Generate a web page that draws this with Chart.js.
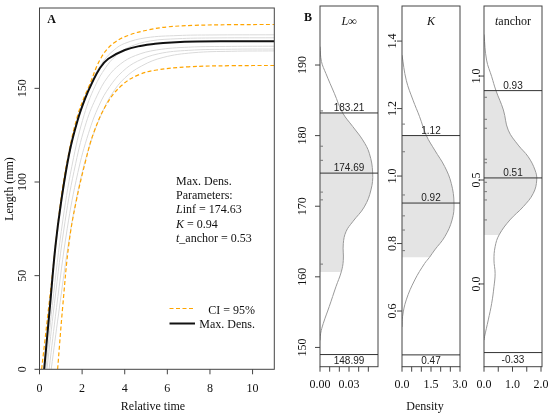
<!DOCTYPE html>
<html>
<head>
<meta charset="utf-8">
<script src="https://cdn.jsdelivr.net/npm/chart.js@4.4.1/dist/chart.umd.min.js"></script>
<style>
  body { margin: 0; background: #fff; }
  #wrap { position: relative; width: 550px; height: 417px; }
  canvas { position: absolute; top: 0; }
</style>
</head>
<body>
<div id="wrap">
  <canvas id="cA" width="280" height="417" style="left:0px"></canvas>
  <canvas id="cL" width="100" height="417" style="left:280px"></canvas>
  <canvas id="cK" width="100" height="417" style="left:380px"></canvas>
  <canvas id="cT" width="88" height="417" style="left:462px"></canvas>
</div>
<script>
// ---- panel A: growth curves (relative time vs length) ----
const blackT = [0.22, 0.49, 0.75, 1.01, 1.4, 1.79, 2.14, 2.45, 2.84, 3.23, 4.01, 4.8, 5.42, 6.2, 7.4, 9, 11.02];
const blackL = [0, 33.5, 66, 89, 115.5, 133, 144.5, 152.5, 160.9, 165.8, 170.5, 172.8, 173.8, 174.5, 175, 175.1, 175.1];

const upT = [0.1, 0.54, 1.0, 1.4, 1.79, 2.14, 2.3, 2.9, 3.5, 4.25, 5.15, 6.0, 7.2, 9, 11.02];
const upL = [0, 44, 90, 117, 135.5, 146.5, 150.5, 166.5, 174.3, 178.6, 181.3, 182.8, 183.6, 184, 184.1];

const loT = [0.85, 1.09, 1.38, 1.71, 2.18, 2.55, 3.15, 3.85, 4.65, 5.5, 7.0, 9, 11.02];
const loL = [0, 33.5, 67, 89, 112, 126.5, 141.5, 151.5, 157.2, 159.8, 161.5, 162.1, 162.2];

const grey1T = [0.2, 0.5, 1.0, 1.5, 2.0, 2.5, 3.0, 3.5, 4.0, 5.0, 6.5, 8, 11.02];
const grey1L = [0, 38, 86, 120, 141, 155, 164.5, 170.5, 174, 177, 178.2, 178.5, 178.6];
const grey2T = [0.3, 0.6, 1.1, 1.6, 2.1, 2.6, 3.1, 3.6, 4.2, 5.2, 6.5, 8, 11.02];
const grey2L = [0, 34, 80, 113, 136, 151, 161, 167.5, 172, 175.3, 176.5, 176.9, 177];
const grey3T = [0.35, 0.7, 1.2, 1.7, 2.2, 2.7, 3.2, 3.8, 4.5, 5.5, 7, 9, 11.02];
const grey3L = [0, 35, 79, 110, 132, 146, 156, 163, 167.5, 170.5, 172, 172.4, 172.5];
const grey4T = [0.45, 0.8, 1.3, 1.8, 2.3, 2.8, 3.3, 3.9, 4.6, 5.6, 7, 9, 11.02];
const grey4L = [0, 33, 75, 105, 126, 141, 151, 159, 164.5, 168.5, 170.3, 170.9, 171];
const grey5T = [0.55, 0.9, 1.4, 1.9, 2.4, 2.9, 3.4, 4.0, 4.8, 5.8, 7.2, 9, 11.02];
const grey5L = [0, 30, 70, 100, 121, 136, 147, 155.5, 162, 166.5, 169, 169.8, 170];

const aXTicks = [0, 2, 4, 6, 8, 10];
const aYTicks = [0, 50, 100, 150];
const params = [174.63, 0.94, 0.53];

// ---- panel B: posterior densities ----
const lVal = [192.6, 190.5, 188.8, 186.0, 183.21, 181.3, 179.4, 177.5, 174.7, 172.3, 169.9, 167.8, 166.4, 164.7, 162.3, 160.7, 158.6, 155.8, 153.4, 152.0, 151.0];
const lDen = [0, 0.0015, 0.0061, 0.0148, 0.0235, 0.0338, 0.0441, 0.051, 0.0545, 0.0527, 0.0458, 0.0338, 0.0269, 0.0241, 0.0241, 0.022, 0.0165, 0.0096, 0.0034, 0.0007, 0];
const lShade = [160.7, 183.21];
const lLines = [183.21, 174.69, 148.99];
const lRug = [183.5, 178.5, 176.5, 172.0, 170.9, 161.8];
const lYTicks = [150, 160, 170, 180, 190];
const lXTicks = [0, 0.01, 0.02, 0.03, 0.04, 0.05];
const lXLabels = [0, 0.03];

const kVal = [1.3585, 1.284, 1.225, 1.176, 1.12, 1.077, 1.028, 0.978, 0.919, 0.870, 0.820, 0.781, 0.759, 0.741, 0.692, 0.633, 0.584, 0.553];
const kDen = [0, 0.22, 0.57, 0.91, 1.26, 1.69, 2.21, 2.55, 2.69, 2.59, 2.21, 1.69, 1.42, 1.17, 0.66, 0.22, 0.03, 0];
const kShade = [0.759, 1.12];
const kLines = [1.12, 0.92, 0.47];
const kRug = [1.154, 1.072, 0.944, 0.882, 0.840, 0.779];
const kYTicks = [0.6, 0.8, 1.0, 1.2, 1.4];
const kXTicks = [0, 0.5, 1.0, 1.5, 2.0, 2.5, 3.0];
const kXLabels = [0, 1.5, 3.0];

const tVal = [1.2, 1.077, 0.997, 0.93, 0.837, 0.740, 0.668, 0.612, 0.548, 0.5, 0.436, 0.372, 0.308, 0.236, 0.179, 0.115, 0.051, -0.013, -0.093, -0.173, -0.253, -0.27];
const tDen = [0, 0.09, 0.27, 0.42, 0.68, 0.85, 1.20, 1.55, 1.79, 1.85, 1.73, 1.38, 0.91, 0.53, 0.39, 0.35, 0.39, 0.35, 0.27, 0.15, 0.02, 0];
const tShade = [0.236, 0.93];
const tLines = [0.93, 0.51, -0.33];
const tRug = [0.898, 0.792, 0.749, 0.600, 0.583, 0.489, 0.444, 0.404, 0.308];
const tYTicks = [0, 0.5, 1.0];
const tXTicks = [0, 0.5, 1.0, 1.5, 2.0];
const tXLabels = [0, 1.0, 2.0];

const SERIF = '12px "Liberation Serif"';
const SANS = '10px "Liberation Sans"';
const FRAME = '#444';

function pts(xs, ys) {
  return xs.map((v, i) => ({ x: v, y: ys[i] }));
}

function seg(ctx, x1, y1, x2, y2) {
  ctx.beginPath();
  ctx.moveTo(x1, y1);
  ctx.lineTo(x2, y2);
  ctx.stroke();
}

// draws runs of [text, italic] left to right
function rich(ctx, parts, x, y, font) {
  let cx = x;
  parts.forEach(([txt, it]) => {
    ctx.font = (it ? 'italic ' : '') + font;
    ctx.fillText(txt, cx, y);
    cx += ctx.measureText(txt).width;
  });
}

// R style box + outside ticks, rotated y labels
function rFrame(o) {
  return {
    id: 'rFrame',
    afterDraw(chart) {
      const { ctx, chartArea: a } = chart;
      const xs = chart.scales.x, ys = chart.scales.y;
      ctx.save();
      ctx.strokeStyle = FRAME;
      ctx.lineWidth = 1;
      ctx.strokeRect(a.left, a.top, a.right - a.left, a.bottom - a.top);
      ctx.fillStyle = '#111';
      ctx.font = SERIF;
      ctx.textAlign = 'center';
      ctx.textBaseline = 'middle';
      o.xTicks.forEach(v => {
        const px = xs.getPixelForValue(v);
        seg(ctx, px, a.bottom, px, a.bottom + 5);
      });
      o.xLabels.forEach(v => {
        ctx.fillText(o.xFmt(v), xs.getPixelForValue(v), a.bottom + o.xOff);
      });
      o.yTicks.forEach(v => {
        const py = ys.getPixelForValue(v);
        seg(ctx, a.left, py, a.left - 5, py);
        ctx.save();
        ctx.translate(a.left - o.yOff, py);
        ctx.rotate(-Math.PI / 2);
        ctx.fillText(o.yFmt(v), 0, 0);
        ctx.restore();
      });
      if (o.extra) o.extra(chart, ctx, a, xs, ys);
      ctx.restore();
    }
  };
}

function baseScales(xMin, xMax, yMin, yMax, yW, xH) {
  const hidden = { display: false };
  return {
    x: { type: 'linear', min: xMin, max: xMax, ticks: hidden, grid: hidden, border: hidden,
         afterFit: s => { s.height = xH; } },
    y: { type: 'linear', min: yMin, max: yMax, ticks: hidden, grid: hidden, border: hidden,
         afterFit: s => { s.width = yW; } }
  };
}

// ---------- chart A ----------
const greyStyle = { borderColor: '#dadada', borderWidth: 1 };
const greySets = [[grey1T, grey1L], [grey2T, grey2L], [grey3T, grey3L], [grey4T, grey4L], [grey5T, grey5L]]
  .map(([t, l]) => Object.assign({ data: pts(t, l) }, greyStyle));

new Chart(document.getElementById('cA'), {
  type: 'line',
  data: {
    datasets: [
      { data: pts(blackT, blackL), borderColor: '#111', borderWidth: 2 },
      { data: pts(upT, upL), borderColor: '#FFA500', borderWidth: 1.2, borderDash: [4, 2.5] },
      { data: pts(loT, loL), borderColor: '#FFA500', borderWidth: 1.2, borderDash: [4, 2.5] },
      ...greySets
    ]
  },
  options: {
    responsive: false,
    animation: false,
    layout: { padding: { left: 0, top: 8, right: 5.7, bottom: 0 } },
    elements: { point: { radius: 0 }, line: { tension: 0.4, fill: false } },
    plugins: { legend: { display: false }, tooltip: { enabled: false } },
    scales: baseScales(0, 11.02, 0, 192.9, 39.5, 47.7)
  },
  plugins: [rFrame({
    xTicks: aXTicks, xLabels: aXTicks, xFmt: v => String(v), xOff: 20,
    yTicks: aYTicks, yFmt: v => String(v), yOff: 16.8,
    extra(chart, ctx, a) {
      ctx.font = 'bold ' + SERIF;
      ctx.fillText('A', 51.7, 20);
      ctx.font = SERIF;
      ctx.fillText('Relative time', 153, 406.5);
      ctx.save();
      ctx.translate(9.5, 189);
      ctx.rotate(-Math.PI / 2);
      ctx.fillText('Length (mm)', 0, 0);
      ctx.restore();
      // parameter block
      ctx.textAlign = 'left';
      rich(ctx, [['Max. Dens.', false]], 176, 181.7, SERIF);
      rich(ctx, [['Parameters:', false]], 176, 196, SERIF);
      rich(ctx, [['L', true], ['inf = ' + params[0].toFixed(2), false]], 176, 210.3, SERIF);
      rich(ctx, [['K', true], [' = ' + params[1].toFixed(2), false]], 176, 224.7, SERIF);
      rich(ctx, [['t', true], ['_anchor = ' + params[2].toFixed(2), false]], 176, 239.2, SERIF);
      // legend
      ctx.strokeStyle = '#FFA500';
      ctx.lineWidth = 1.2;
      ctx.setLineDash([4, 2.5]);
      seg(ctx, 169.5, 308.5, 195, 308.5);
      ctx.setLineDash([]);
      ctx.strokeStyle = '#111';
      ctx.lineWidth = 2;
      seg(ctx, 169.5, 323.5, 195, 323.5);
      ctx.textAlign = 'right';
      ctx.font = SERIF;
      ctx.fillText('CI = 95%', 255, 310.5);
      ctx.fillText('Max. Dens.', 255, 325);
    }
  })]
});

// ---------- charts B ----------
function densPanel(id, cfg) {
  const shadePts = pts(cfg.den, cfg.val).filter(p => p.y >= cfg.shade[0] - 1e-9 && p.y <= cfg.shade[1] + 1e-9);
  new Chart(document.getElementById(id), {
    type: 'line',
    data: {
      datasets: [
        { data: pts(cfg.den, cfg.val), borderColor: '#9a9a9a', borderWidth: 1, fill: false },
        { data: shadePts, borderWidth: 0, borderColor: 'rgba(0,0,0,0)', backgroundColor: '#e4e4e4', fill: 'origin' }
      ]
    },
    options: {
      indexAxis: 'y',
      responsive: false,
      animation: false,
      layout: { padding: { left: 0, top: 6, right: cfg.padR, bottom: 0 } },
      elements: { point: { radius: 0 }, line: { tension: 0.4 } },
      plugins: { legend: { display: false }, tooltip: { enabled: false } },
      scales: baseScales(0, cfg.xMax, cfg.yMin, cfg.yMax, cfg.yW, 50.3)
    },
    plugins: [rFrame({
      xTicks: cfg.xTicks, xLabels: cfg.xLabels, xFmt: cfg.xFmt, xOff: 18.3,
      yTicks: cfg.yTicks, yFmt: cfg.yFmt, yOff: cfg.yOff,
      extra(chart, ctx, a, xs, ys) {
        // rug marks
        ctx.strokeStyle = '#777';
        cfg.rug.forEach(v => {
          const py = ys.getPixelForValue(v);
          seg(ctx, a.left, py, a.left + 3, py);
        });
        // summary lines with labels
        ctx.strokeStyle = '#333';
        ctx.lineWidth = 1;
        ctx.font = SANS;
        ctx.fillStyle = '#222';
        ctx.textAlign = 'center';
        const cx = (a.left + a.right) / 2;
        cfg.lines.forEach((v, i) => {
          const py = ys.getPixelForValue(v);
          seg(ctx, a.left, py, a.right, py);
          if (i === cfg.lines.length - 1) {
            ctx.textBaseline = 'middle';
            ctx.fillText(v.toFixed(2), cx, (py + a.bottom) / 2 + 0.5);
          } else {
            ctx.textBaseline = 'alphabetic';
            ctx.fillText(v.toFixed(2), cx, py - 2);
          }
        });
        ctx.textBaseline = 'middle';
        ctx.fillStyle = '#111';
        ctx.textAlign = 'left';
        const tw = cfg.title.reduce((w, [t, it]) => {
          ctx.font = (it ? 'italic ' : '') + SERIF;
          return w + ctx.measureText(t).width;
        }, 0);
        rich(ctx, cfg.title, cx - tw / 2, 21.7, SERIF);
        ctx.textAlign = 'center';
        if (cfg.extraText) cfg.extraText(ctx);
      }
    })]
  });
}

densPanel('cL', {
  val: lVal, den: lDen, shade: lShade, lines: lLines, rug: lRug,
  xMax: 0.06, yMin: 147.27, yMax: 198.36, yW: 40, padR: 2,
  xTicks: lXTicks, xLabels: lXLabels, xFmt: v => v.toFixed(2),
  yTicks: lYTicks, yFmt: v => String(v), yOff: 16.7,
  title: [['L\u221E', true]],
  extraText(ctx) {
    ctx.font = 'bold ' + SERIF;
    ctx.fillText('B', 28, 18.3);
  }
});

densPanel('cK', {
  val: kVal, den: kDen, shade: kShade, lines: kLines, rug: kRug,
  xMax: 3.0, yMin: 0.435, yMax: 1.504, yW: 22, padR: 20,
  xTicks: kXTicks, xLabels: kXLabels, xFmt: v => v.toFixed(1),
  yTicks: kYTicks, yFmt: v => v.toFixed(1), yOff: 9,
  title: [['K', true]],
  extraText(ctx) {
    ctx.font = SERIF;
    ctx.fillText('Density', 45, 406.5);
  }
});

densPanel('cT', {
  val: tVal, den: tDen, shade: tShade, lines: tLines, rug: tRug,
  xMax: 2.035, yMin: -0.398, yMax: 1.337, yW: 22, padR: 8,
  xTicks: tXTicks, xLabels: tXLabels, xFmt: v => v.toFixed(1),
  yTicks: tYTicks, yFmt: v => v.toFixed(1), yOff: 7.3,
  title: [['t', true], ['anchor', false]]
});
</script>
</body>
</html>
